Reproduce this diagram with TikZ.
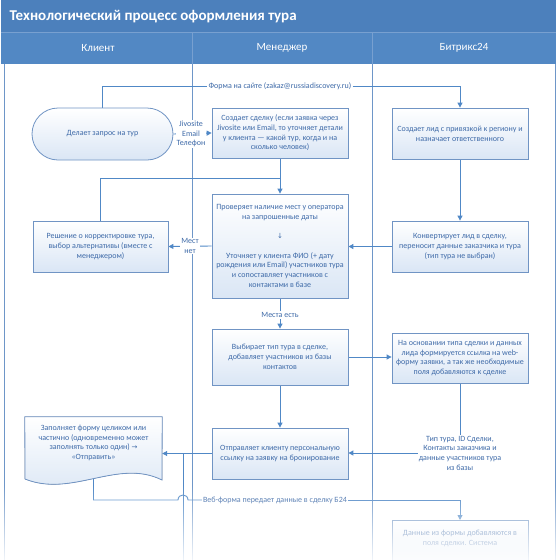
\documentclass[tikz,border=0pt]{standalone}
\usepackage{fontspec}
\setmainfont{Carlito}
\newfontfamily\arrfont{DejaVu Sans}
\usetikzlibrary{arrows.meta,backgrounds,fadings}
\definecolor{barc}{RGB}{76,128,188}
\definecolor{headc}{RGB}{82,136,196}
\definecolor{sepc}{RGB}{120,160,208}
\definecolor{lanec}{RGB}{110,150,200}
\definecolor{linec}{RGB}{80,136,198}
\definecolor{boxc}{RGB}{112,148,196}
\definecolor{fillc}{RGB}{218,230,245}
\definecolor{txtc}{RGB}{62,106,168}
\tikzfading[name=bottomfade, top color=transparent!100, bottom color=transparent!8]
\newcommand{\bxfont}{\fontsize{8}{9.7}\selectfont}
\newcommand{\ar}[1]{{\arrfont\fontsize{7}{9.7}\selectfont #1}}
\tikzset{
  box/.style={draw=boxc, line width=0.8pt, top color=white, bottom color=fillc,
    minimum width=136pt, text=txtc, font=\bxfont, align=center, inner sep=0pt},
  lbl/.style={fill=white, text=txtc, font=\bxfont, align=center, inner sep=1pt},
  conn/.style={draw=linec, line width=0.9pt},
  arr/.style={conn, -{Triangle[width=5pt,length=5pt]}},
  lane/.style={draw=lanec, line width=0.9pt},
  headtxt/.style={text=white, font=\fontsize{11}{13}\selectfont},
}
\begin{document}
\begin{tikzpicture}[x=1pt,y=-1pt]
\useasboundingbox (0,0) rectangle (560,560);
\clip (0,0) rectangle (560,560);
% header
\fill[barc] (1,0) rectangle (556,32);
\fill[headc] (1,32) rectangle (556,64);
\draw[sepc, line width=0.8pt] (1,32) -- (556,32);
\draw[sepc, line width=0.8pt] (192,32) -- (192,64) (372,32) -- (372,64);
\node[anchor=west, text=white, font=\bfseries\fontsize{15}{18}\selectfont] (title) at (6,17) {Технологический процесс оформления тура};
\node[headtxt] (h1) at (98,48) {Клиент};
\node[headtxt] (h2) at (282,48) {Менеджер};
\node[headtxt] (h3) at (464,48) {Битрикс24};

% nodes
\node[box, rounded corners=26pt, minimum width=141pt, minimum height=52pt] (st) at (102.5,134) {Делает запрос на тур};
\node[box, minimum height=50pt] (b1) at (280,133) {Создает сделку (если заявка через\\Jivosite или Email, то уточняет детали\\у клиента — какой тур, когда и на\\сколько человек)};
\node[box, minimum height=51pt] (lead) at (460,133.5) {Создает лид с привязкой к региону и\\назначает ответственного};
\node[box, minimum height=104pt] (b2) at (280,246) {Проверяет наличие мест у оператора\\на запрошенные даты\\[9.7pt]\ar{↓}\\[9.7pt]Уточняет у клиента ФИО (+ дату\\рождения или Email) участников тура\\и сопоставляет участников с\\контактами в базе};
\node[box, minimum width=135pt, minimum height=51pt] (alt) at (100.5,246.5) {Решение о корректировке тура,\\выбор альтернативы (вместе с\\менеджером)};
\node[box, minimum height=51pt] (konv) at (460,246.5) {Конвертирует лид в сделку,\\переносит данные заказчика и тура\\(тип тура не выбран)};
\node[box, minimum height=56pt] (b3) at (280,357) {Выбирает тип тура в сделке,\\добавляет участников из базы\\контактов};
\node[box, minimum height=50pt] (bx3) at (460,358) {На основании типа сделки и данных\\лида формируется ссылка на web-\\форму заявки, а так же необходимые\\поля добавляются к сделке};
\node[box, minimum height=51pt] (b4) at (280,453.5) {Отправляет клиенту персональную\\ссылку на заявку на бронирование};
\node[box, anchor=north, inner ysep=10pt] (b5) at (460,520) {Данные из формы добавляются в\\поля сделки. Система\\~};
% document shape
\node[minimum width=137pt, minimum height=62pt, inner sep=0pt] (doc) at (93.5,448) {};
\filldraw[draw=boxc, line width=0.8pt, top color=white, bottom color=fillc]
  (doc.north west) -- (doc.north east) -- (162,480)
  .. controls (118,458) and (72,498) .. (25,479) -- cycle;
\node[text=txtc, font=\bxfont, align=center] (doctxt) at (93.5,443) {Заполняет форму целиком или\\частично (одновременно может\\заполнять только один) \ar{→}\\«Отправить»};

% labels
\node[lbl] (flbl) at (280,86) {Форма на сайте (zakaz@russiadiscovery.ru)};
\node[lbl] (jlbl) at (191,134) {Jivosite\\Email\\Телефон};
\node[lbl] (mlbl) at (190,246) {Мест\\нет};
\node[lbl] (elbl) at (280,315) {Места есть};
\node[lbl] (dlbl) at (460,453) {Тип тура, ID Сделки,\\Контакты заказчика и\\данные участников тура\\из базы};
\node[lbl] (wlbl) at (275,500) {Веб-форма передает данные в сделку Б24};

\coordinate (j1) at (280,178);
\coordinate (v1) at (183,453);
\coordinate (v2) at (183,575);
\coordinate (d1) at (93.5,478);
\coordinate (d2) at (93.5,500);
\coordinate (h0) at (178,500);
\coordinate (h9) at (188,500);

\begin{scope}[on background layer]
  \draw[lane] (4,64) -- (4,575);
  \draw[lane] (192,64) -- (192,575);
  \draw[lane] (372,64) -- (372,575);
  \draw[lane] (555,64) -- (555,575);
  \draw[conn] (st.north) |- (flbl.west);
  \draw[arr] (flbl.east) -| (lead.north);
  \draw[arr] (st.east) -- (b1.west);
  \draw[arr] (b1.south) -- (b2.north);
  \draw[conn] (alt.north) |- (j1);
  \draw[arr] (b2.west) -- (alt.east);
  \draw[arr] (lead.south) -- (konv.north);
  \draw[arr] (konv.west) -- (konv.west -| b2.east);
  \draw[arr] (b2.south) -- (b3.north);
  \draw[arr] (b3.east) -- (b3.east -| bx3.west);
  \draw[arr] (b3.south) -- (b4.north);
  \draw[conn] (bx3.south) -- (dlbl.north);
  \draw[arr] (dlbl.west) -- (dlbl.west -| b4.east);
  \draw[arr] (b4.west) -- (b4.west -| doc.east);
  \draw[conn] (v1) -- (v2);
  \draw[conn] (d1) -- (d2) -- (h0) .. controls (178,493.3) and (188,493.3) .. (h9) -- (wlbl.west);
  \draw[arr] (wlbl.east) -| (b5.north);
\end{scope}

% bottom fade
\fill[white, path fading=bottomfade] (0,485) rectangle (560,561);
\end{tikzpicture}
\end{document}
